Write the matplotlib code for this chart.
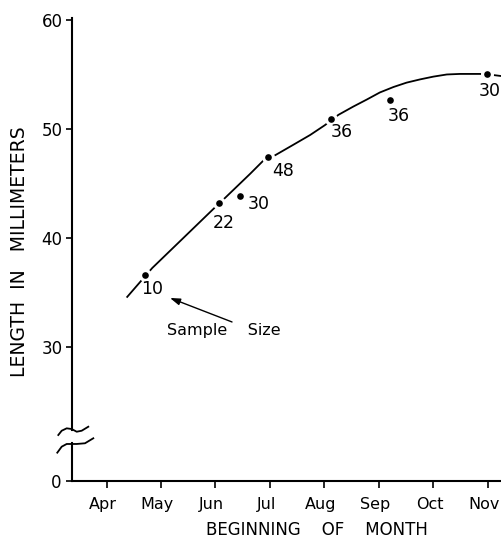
import matplotlib.pyplot as plt
from matplotlib.lines import Line2D
from matplotlib.transforms import ScaledTranslation

plt.rcParams['font.family'] = ['DejaVu Sans']

# x is month index, 4 = beginning of April ... 11 = beginning of November
months = ['Apr', 'May', 'Jun', 'Jul', 'Aug', 'Sep', 'Oct', 'Nov']
month_pos = [4, 5, 6, 7, 8, 9, 10, 11]

# mean length of each sample (mm) and its sample size
sample_month = [4.71, 6.07, 6.45, 6.97, 8.12, 9.21, 10.99]
sample_length = [36.6, 43.2, 43.85, 47.4, 50.9, 52.7, 55.0]
sample_size = [10, 22, 30, 48, 36, 36, 30]

# hand-fitted growth curve
curve_month = [4.38, 4.84, 5.40, 5.98, 6.14, 6.64, 6.89, 7.10, 7.43, 7.74,
               8.01, 8.26, 8.53, 8.78, 9.02, 9.27, 9.51, 9.76, 10.00, 10.25,
               10.49, 10.86, 11.10, 11.26]
curve_length = [34.6, 37.25, 39.95, 42.75, 43.5, 45.9, 47.15, 47.6, 48.55,
                49.45, 50.35, 51.3, 52.05, 52.7, 53.35, 53.85, 54.25, 54.55,
                54.8, 55.0, 55.05, 55.05, 54.95, 54.85]

# where each sample size number sits relative to its dot (points)
size_offsets = [(5, -10), (3, -14.4), (13.7, -5.8), (10.8, -10),
                (8, -9.4), (5.8, -11.5), (1.5, -12.2)]

fig = plt.figure(figsize=(5.01, 5.42), dpi=100)
ax = fig.add_axes([0.1437, 0.2066, 0.8563, 0.7602])
axb = fig.add_axes([0.1437, 0.1125, 0.8563, 0.0702])

xlim = (3.366, 11.245)

# upper part of the broken axis
ax.plot(curve_month, curve_length, color='black', lw=1.3, zorder=2)
ax.plot(sample_month, sample_length, 'o', ms=9.4, color='white',
        mec='none', zorder=3)
ax.plot(sample_month, sample_length, 'o', ms=4.8, color='black',
        mec='none', zorder=4)
for m, l, n, off in zip(sample_month, sample_length, sample_size, size_offsets):
    ax.annotate(str(n), (m, l), xytext=off, textcoords='offset points',
                ha='center', va='center', fontsize=12.5)

ax.text(6.158, 31.56, 'Sample    Size', ha='center', va='center', fontsize=11.5)
ax.annotate('', xy=(5.166, 34.5), xytext=(6.305, 32.3),
            arrowprops=dict(arrowstyle='-|>,head_length=0.6,head_width=0.2',
                            color='black', lw=1.0, mutation_scale=10,
                            shrinkA=0, shrinkB=0))

ax.set_xlim(xlim)
ax.set_ylim(22.39, 60.18)
ax.set_yticks([30, 40, 50, 60])
ax.set_xticks([])
for s in ['top', 'right', 'bottom']:
    ax.spines[s].set_visible(False)
ax.spines['left'].set_linewidth(1.5)
ax.tick_params(axis='y', direction='out', length=4.3, width=1.2, pad=2.5,
               labelsize=12)
ax.set_ylabel('LENGTH  IN   MILLIMETERS', fontsize=13.5, va='center')
ax.yaxis.set_label_coords(-0.1235, 0.433)

# lower part, just the zero
axb.set_xlim(xlim)
axb.set_ylim(0, 3.49)
axb.set_yticks([0])
axb.set_xticks(month_pos)
axb.set_xticklabels(months)
for s in ['top', 'right']:
    axb.spines[s].set_visible(False)
axb.spines['left'].set_linewidth(1.5)
axb.spines['bottom'].set_linewidth(1.5)
axb.tick_params(axis='y', direction='out', length=4.3, width=1.2, pad=3,
                labelsize=12)
axb.tick_params(axis='x', direction='out', length=4.8, width=1.2, pad=6.5,
                labelsize=11.5)
# month names sit a little left of their ticks in the original
shift = ScaledTranslation(-0.035, 0, fig.dpi_scale_trans)
for lbl in axb.get_xticklabels():
    lbl.set_transform(lbl.get_transform() + shift)
axb.set_xlabel('BEGINNING    OF    MONTH', fontsize=12, va='center')
axb.xaxis.set_label_coords(0.571, -1.29)


# squiggles marking the axis break (pixel offsets from the spine ends)
def breakmark(a, ay, pts):
    tr = fig.dpi_scale_trans + ScaledTranslation(0, ay, a.transAxes)
    xs = [p[0] / 100 for p in pts]
    ys = [p[1] / 100 for p in pts]
    fig.add_artist(Line2D(xs, ys, transform=tr, color='black', lw=1.3))


breakmark(ax, 0, [(-13.7, -5), (-10.3, -0.7), (-5.3, 1.7), (-0.3, 1),
                  (4.7, -1.7), (9.7, -0.7), (16.3, 3.3)])
breakmark(axb, 1, [(-14.7, -9.7), (-10.3, -3.7), (-5.3, -1), (4.7, -1),
                   (13, -0.3), (21.3, 4.7)])

fig.savefig('out.png', dpi=100)
